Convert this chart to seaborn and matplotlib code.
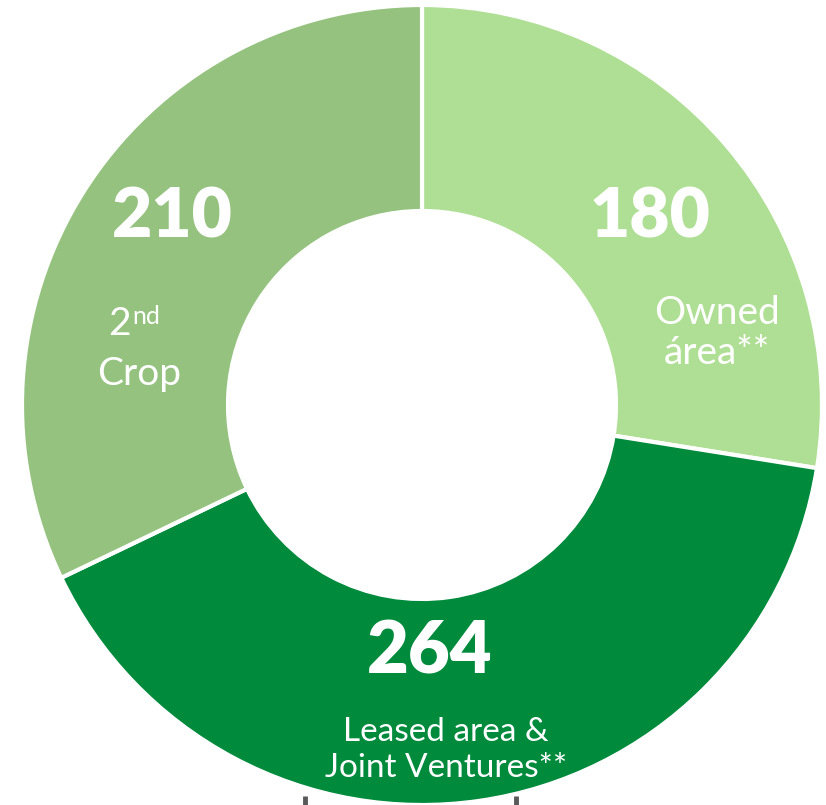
import matplotlib.pyplot as plt
import seaborn as sns

# hectares (thousands) by land type
categories = ["Owned\nárea**", "Leased area &\nJoint Ventures**", "2nd\nCrop"]
values = [180, 264, 210]
colors = ["#afdf94", "#008a3c", "#95c37f"]

sns.set_style("white")
plt.rcParams["font.family"] = ["Lato", "DejaVu Sans"]

fig = plt.figure(figsize=(8.26, 8.05), dpi=100)
ax = fig.add_axes([0, 0, 1, 1])

# work in pixel-like units so the ring sits where it does in the original
cx, cy, r = 422, 400, 400
wedges, _ = ax.pie(values,
                   colors=colors,
                   startangle=90,
                   counterclock=False,
                   center=(cx, cy),
                   radius=r,
                   wedgeprops=dict(width=r * 0.515, edgecolor="white", linewidth=3))

ax.set_xlim(0, 826)
ax.set_ylim(0, 805)
ax.set_aspect("equal")
ax.axis("off")

num_font = dict(color="white", fontweight="heavy", ha="center", va="center")
lab_font = dict(color="white", fontweight="normal", ha="center", va="center")

# value labels
ax.text(650, 805 - 218, str(values[0]), fontsize=50, **num_font)
ax.text(430, 805 - 652, str(values[1]), fontsize=52, **num_font)
ax.text(172, 805 - 218, str(values[2]), fontsize=50, **num_font)

# category labels
ax.text(717, 805 - 333, categories[0], fontsize=28, linespacing=1.15, **lab_font)
ax.text(446, 805 - 750, categories[1], fontsize=24, linespacing=1.25, **lab_font)

# "2nd" with superscript, then "Crop"
ax.text(131, 805 - 324, "2", fontsize=28, color="white", fontweight="normal",
        ha="right", va="center")
ax.text(132, 805 - 316, "nd", fontsize=18, color="white", fontweight="normal",
        ha="left", va="center")
ax.text(139, 805 - 374, "Crop", fontsize=28, **lab_font)

# small gray ticks peeking under the ring
ax.vlines([305, 516], 0, 9, color="#595959", linewidth=3.5)

plt.savefig("out.png", dpi=100)
